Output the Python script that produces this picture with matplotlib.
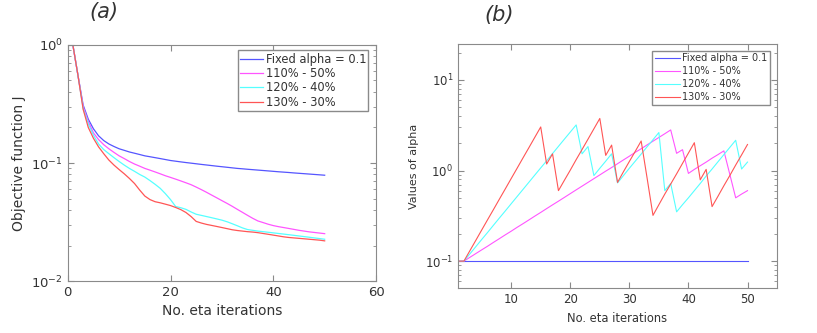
import numpy as np
import matplotlib
matplotlib.use("Agg")
import matplotlib.pyplot as plt

# ---- data ----
iters = list(range(1, 51))
labels = ["Fixed alpha = 0.1", "110% - 50%", "120% - 40%", "130% - 30%"]

# (a) objective function J
J_fixed = [1.0, 0.55, 0.31, 0.235, 0.195, 0.17, 0.155, 0.145, 0.138, 0.132,
           0.128, 0.124, 0.121, 0.118, 0.115, 0.113, 0.111, 0.109, 0.107, 0.105,
           0.1036, 0.1022, 0.1009, 0.0997, 0.0985, 0.0973, 0.0962, 0.0951, 0.094, 0.093,
           0.092, 0.091, 0.090, 0.0893, 0.0885, 0.0878, 0.0871, 0.0864, 0.0857, 0.085,
           0.0843, 0.0837, 0.0831, 0.0824, 0.0818, 0.0812, 0.0806, 0.080, 0.0794, 0.0788]
J_110 = [1.0, 0.55, 0.30, 0.225, 0.18, 0.158, 0.143, 0.132, 0.123, 0.115,
         0.109, 0.103, 0.098, 0.094, 0.090, 0.087, 0.084, 0.081, 0.078, 0.0755,
         0.073, 0.0705, 0.068, 0.0655, 0.0625, 0.0595, 0.0565, 0.0535, 0.0507, 0.048,
         0.0455, 0.043, 0.0405, 0.0382, 0.036, 0.034, 0.0323, 0.0313, 0.0303, 0.0295,
         0.0289, 0.0284, 0.0279, 0.0274, 0.0269, 0.0265, 0.0261, 0.0258, 0.0255, 0.0252]
J_120 = [1.0, 0.55, 0.29, 0.215, 0.172, 0.145, 0.13, 0.12, 0.111, 0.103,
         0.096, 0.090, 0.085, 0.080, 0.076, 0.071, 0.066, 0.061, 0.055, 0.049,
         0.0428, 0.0418, 0.0405, 0.0385, 0.0368, 0.036, 0.0352, 0.0344, 0.0336, 0.0328,
         0.0318, 0.0306, 0.0294, 0.0282, 0.0273, 0.0269, 0.0265, 0.0262, 0.0259, 0.0256,
         0.0253, 0.025, 0.0247, 0.0244, 0.0241, 0.0238, 0.0235, 0.0232, 0.0229, 0.0226]
J_130 = [1.0, 0.55, 0.285, 0.20, 0.162, 0.137, 0.12, 0.106, 0.096, 0.088,
         0.081, 0.074, 0.067, 0.059, 0.0525, 0.049, 0.047, 0.046, 0.0448, 0.0436,
         0.042, 0.0403, 0.0381, 0.0352, 0.032, 0.031, 0.0302, 0.0296, 0.029, 0.0284,
         0.0278, 0.0272, 0.0268, 0.0265, 0.0262, 0.026, 0.0257, 0.0253, 0.0249, 0.0245,
         0.0241, 0.0237, 0.0234, 0.0232, 0.023, 0.0228, 0.0226, 0.0224, 0.0222, 0.0219]

# (b) values of alpha
a_fixed = [0.1] * 50
a_110 = [0.1, 0.1, 0.11, 0.121, 0.133, 0.146, 0.161, 0.177, 0.195, 0.214,
         0.236, 0.259, 0.285, 0.314, 0.345, 0.38, 0.418, 0.459, 0.505, 0.556,
         0.612, 0.673, 0.74, 0.814, 0.895, 0.985, 1.08, 1.19, 1.31, 1.44,
         1.59, 1.74, 1.92, 2.11, 2.32, 2.55, 2.81, 1.55, 1.70, 0.93,
         1.03, 1.13, 1.24, 1.37, 1.50, 1.65, 0.91, 0.50, 0.55, 0.60]
a_120 = [0.1, 0.1, 0.12, 0.144, 0.173, 0.207, 0.249, 0.299, 0.358, 0.43,
         0.516, 0.619, 0.743, 0.892, 1.07, 1.28, 1.54, 1.85, 2.22, 2.66,
         3.19, 1.53, 1.84, 0.88, 1.06, 1.27, 1.53, 0.73, 0.88, 1.06,
         1.27, 1.52, 1.83, 2.19, 2.63, 0.60, 0.72, 0.35, 0.42, 0.50,
         0.60, 0.72, 0.87, 1.04, 1.25, 1.50, 1.80, 2.16, 1.04, 1.24]
a_130 = [0.1, 0.1, 0.13, 0.169, 0.22, 0.286, 0.371, 0.483, 0.627, 0.816,
         1.06, 1.38, 1.79, 2.33, 3.03, 1.18, 1.53, 0.60, 0.78, 1.01,
         1.32, 1.71, 2.22, 2.89, 3.76, 1.47, 1.91, 0.74, 0.97, 1.26,
         1.63, 2.12, 0.83, 0.32, 0.42, 0.55, 0.71, 0.92, 1.2, 1.56,
         2.03, 0.79, 1.03, 0.40, 0.52, 0.68, 0.88, 1.15, 1.49, 1.94]

colors = ["#5555ff", "#ff55ff", "#55ffff", "#ff5555"]
txt = "#333333"
edge = "#8a8a8a"


def style_axes(ax, fs):
    for s in ax.spines.values():
        s.set_color(edge)
        s.set_linewidth(0.8)
    ax.tick_params(which="both", direction="in", top=True, right=True,
                   colors=edge, labelcolor=txt, labelsize=fs)
    ax.tick_params(which="major", length=4)
    ax.tick_params(which="minor", length=2)


fig = plt.figure(figsize=(8.17, 3.33), dpi=100)

# ---- (a) ----
ax1 = fig.add_axes([0.0829, 0.156, 0.3774, 0.709])
for y, c, lab in zip([J_fixed, J_110, J_120, J_130], colors, labels):
    ax1.semilogy(iters, y, color=c, lw=0.9, label=lab)
ax1.set_xlim(0, 60)
ax1.set_ylim(0.01, 1)
ax1.set_xticks([0, 20, 40, 60])
style_axes(ax1, 9.5)
ax1.set_xlabel("No. eta iterations", fontsize=10, color=txt)
ax1.set_ylabel("Objective function J", fontsize=10, color=txt)
leg1 = ax1.legend(loc="upper right", bbox_to_anchor=(0.975, 0.977), borderaxespad=0,
                  fontsize=8.3, fancybox=False, framealpha=1, edgecolor=edge,
                  handlelength=2.0, borderpad=0.2, labelspacing=0.12, handletextpad=0.2)
for t in leg1.get_texts():
    t.set_color(txt)
fig.text(0.127, 0.965, "(a)", fontsize=15, style="italic", color=txt, ha="center", va="center")

# ---- (b) ----
ax2 = fig.add_axes([0.5606, 0.134, 0.3905, 0.734])
for y, c, lab in zip([a_fixed, a_110, a_120, a_130], colors, labels):
    ax2.semilogy(iters, y, color=c, lw=0.8, label=lab)
ax2.set_xlim(1, 55)
ax2.set_ylim(0.05, 25)
ax2.set_xticks([10, 20, 30, 40, 50])
style_axes(ax2, 8.5)
ax2.set_xlabel("No. eta iterations", fontsize=8.3, color=txt)
ax2.set_ylabel("Values of alpha", fontsize=8, color=txt)
leg2 = ax2.legend(loc="upper right", bbox_to_anchor=(0.978, 0.973), borderaxespad=0,
                  fontsize=7, fancybox=False, framealpha=1, edgecolor=edge,
                  handlelength=2.6, borderpad=0.3, labelspacing=0.3, handletextpad=0.2)
for t in leg2.get_texts():
    t.set_color(txt)
fig.text(0.611, 0.955, "(b)", fontsize=15, style="italic", color=txt, ha="center", va="center")

fig.savefig("out.png", dpi=100)
